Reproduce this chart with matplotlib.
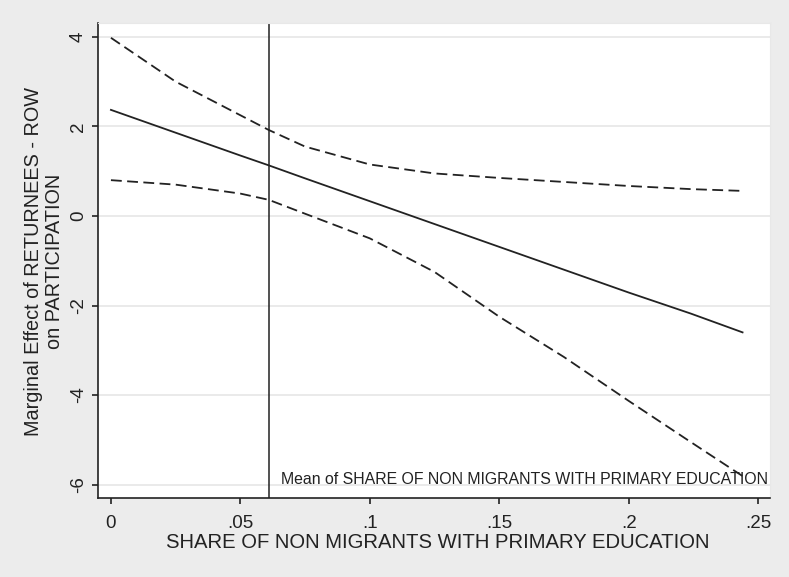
import numpy as np
import matplotlib
matplotlib.use("Agg")
import matplotlib.pyplot as plt
from matplotlib.transforms import blended_transform_factory

plt.rcParams['font.family'] = ['Liberation Sans', 'DejaVu Sans']

# share of non migrants with primary education (x) and marginal effect
share = [0.0, 0.025, 0.05, 0.061, 0.075, 0.1, 0.125, 0.15, 0.175, 0.2, 0.224, 0.244]
effect = [2.37, 1.86, 1.35, 1.13, 0.84, 0.33, -0.18, -0.69, -1.20, -1.71, -2.18, -2.60]
upper = [3.98, 3.00, 2.25, 1.92, 1.55, 1.15, 0.95, 0.85, 0.76, 0.67, 0.60, 0.56]
lower = [0.80, 0.70, 0.50, 0.36, 0.05, -0.50, -1.25, -2.25, -3.15, -4.13, -5.05, -5.81]
mean_share = 0.061

xticks = [0, 0.05, 0.1, 0.15, 0.2, 0.25]
xtick_labels = ["0", ".05", ".1", ".15", ".2", ".25"]
yticks = [-6, -4, -2, 0, 2, 4]
ytick_labels = ["-6", "-4", "-2", "0", "2", "4"]

bg = "#ececec"
ink = "#222222"

fig = plt.figure(figsize=(7.89, 5.77), dpi=100, facecolor=bg)
ax = fig.add_axes([0.1242, 0.1369, 0.8517, 0.8232])
ax.set_facecolor("white")

ax.plot(share, effect, color=ink, lw=1.3)
ax.plot(share, upper, color=ink, lw=1.3, dashes=(6, 3))
ax.plot(share, lower, color=ink, lw=1.3, dashes=(6, 3))
ax.axvline(mean_share, color=ink, lw=1.1)

ax.set_xlim(-0.005, 0.2546)
ax.set_ylim(-6.30, 4.31)

ax.set_xticks(xticks)
ax.set_xticklabels(xtick_labels)
ax.set_yticks(yticks)
ax.set_yticklabels(ytick_labels, rotation=90, va="center")
ax.tick_params(axis="both", length=4.5, width=1.2, color=ink, labelsize=13.5,
               labelcolor=ink)
ax.tick_params(axis="x", pad=7.5)
ax.tick_params(axis="y", pad=3.5)

ax.grid(axis="y", color="#e6e6e6", lw=1.2)
ax.set_axisbelow(True)
for side in ["top", "right"]:
    ax.spines[side].set_color("#e8e8e8")
for side in ["left", "bottom"]:
    ax.spines[side].set_color(ink)
    ax.spines[side].set_linewidth(1.2)

trans = blended_transform_factory(ax.transAxes, ax.transAxes)
ax.text(0.997, 0.03, "Mean of SHARE OF NON MIGRANTS WITH PRIMARY EDUCATION",
        transform=trans, ha="right", va="baseline", fontsize=11.4, color=ink)

fig.text(438 / 789, 1 - 548 / 577, "SHARE OF NON MIGRANTS WITH PRIMARY EDUCATION",
         ha="center", va="baseline", fontsize=14.6, color=ink)
fig.text(44 / 789, 1 - 261 / 577,
         "Marginal Effect of RETURNEES - ROW\non PARTICIPATION",
         ha="center", va="center", rotation=90, multialignment="center",
         linespacing=1.08, fontsize=14.3, color=ink)

fig.savefig("out.png", dpi=100, facecolor=bg)
